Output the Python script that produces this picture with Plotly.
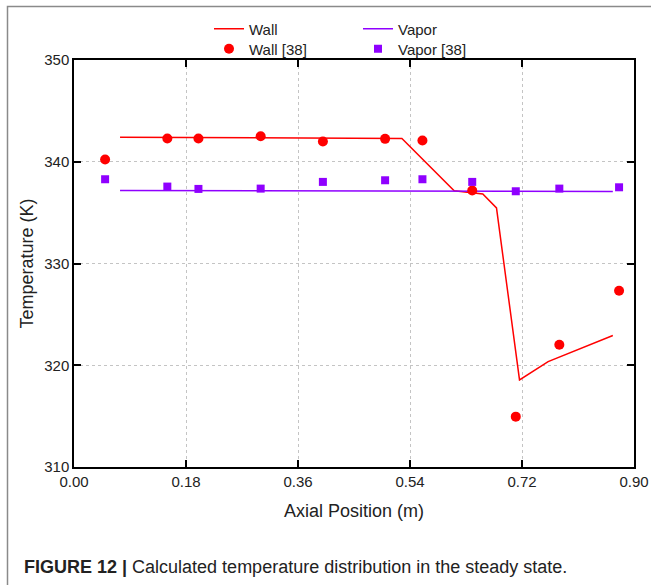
import plotly.graph_objects as go

# ---- data ----
wall_line_x = [0.074, 0.30, 0.527, 0.611, 0.657, 0.679, 0.716, 0.762, 0.866]
wall_line_T = [342.41, 342.35, 342.28, 337.14, 336.84, 335.46, 318.56, 320.36, 322.92]

vapor_line_x = [0.074, 0.866]
vapor_line_T = [337.17, 337.07]

exp_x = [0.05, 0.15, 0.20, 0.30, 0.40, 0.50, 0.56, 0.64, 0.71, 0.78, 0.876]
wall_exp_T = [340.22, 342.28, 342.28, 342.51, 341.99, 342.25, 342.09, 337.17, 314.95, 322.01, 327.32]
vapor_exp_T = [338.28, 337.56, 337.33, 337.36, 338.02, 338.18, 338.28, 338.02, 337.10, 337.36, 337.49]

x_ticks = [0.00, 0.18, 0.36, 0.54, 0.72, 0.90]
y_ticks = [310, 320, 330, 340, 350]

RED = "#FF0000"
PURPLE = "#8F00FF"
TXT = "#222222"

fig = go.Figure()
fig.add_trace(go.Scatter(x=wall_line_x, y=wall_line_T, mode="lines", name="Wall",
                         line=dict(color=RED, width=1.5), legend="legend"))
fig.add_trace(go.Scatter(x=vapor_line_x, y=vapor_line_T, mode="lines", name="Vapor",
                         line=dict(color=PURPLE, width=1.5), legend="legend2"))
fig.add_trace(go.Scatter(x=exp_x, y=wall_exp_T, mode="markers", name="Wall [38]",
                         marker=dict(color=RED, size=10, symbol="circle"), legend="legend3"))
fig.add_trace(go.Scatter(x=exp_x, y=vapor_exp_T, mode="markers", name="Vapor [38]",
                         marker=dict(color=PURPLE, size=8, symbol="square"), legend="legend4"))

L, R, T, B = 74, 17, 60, 118
W, H = 651, 585
pw, ph = W - L - R, H - T - B

def xp(px):
    return (px - L) / pw

def yp(py):
    return (H - B - py) / ph

leg_common = dict(orientation="h", xanchor="left", yanchor="middle",
                  font=dict(family="Liberation Sans, Arial", size=15, color=TXT),
                  bgcolor="rgba(0,0,0,0)", borderwidth=0, itemwidth=30)

axis_common = dict(showline=True, linecolor="black", linewidth=1.5, mirror="ticks",
                   ticks="inside", ticklen=7, tickwidth=1.5, tickcolor="black",
                   showgrid=True, gridcolor="#C4C4C4", griddash="dot", gridwidth=1,
                   zeroline=False,
                   tickfont=dict(family="Liberation Sans, Arial", size=15, color=TXT),
                   title_font=dict(family="Liberation Sans, Arial", size=18, color=TXT))

fig.update_layout(
    width=W, height=H,
    margin=dict(l=L, r=R, t=T, b=B, autoexpand=False),
    paper_bgcolor="white", plot_bgcolor="white",
    showlegend=True,
    legend=dict(x=xp(209), y=yp(29), **leg_common),
    legend2=dict(x=xp(358), y=yp(29), **leg_common),
    legend3=dict(x=xp(209), y=yp(49), **leg_common),
    legend4=dict(x=xp(358), y=yp(49), **leg_common),
    xaxis=dict(range=[0, 0.9], tickvals=x_ticks, tickformat=".2f",
               title=dict(text="Axial Position (m)", standoff=16), **axis_common),
    yaxis=dict(range=[310, 350], tickvals=y_ticks,
               title=dict(text="Temperature (K)", standoff=6), **axis_common),
    shapes=[dict(type="path", xref="paper", yref="paper",
                 path=f"M {xp(660)} {yp(6.5)} L {xp(7.5)} {yp(6.5)} L {xp(7.5)} {yp(600)}",
                 line=dict(color="#8A8A8A", width=1.5))],
    annotations=[dict(xref="paper", yref="paper", x=xp(22), y=yp(567),
                      xanchor="left", yanchor="middle", showarrow=False,
                      text="<b>FIGURE 12 |</b> Calculated temperature distribution in the steady state.",
                      font=dict(family="Liberation Sans, Arial", size=18, color=TXT))],
)

fig.write_html("out.html")
